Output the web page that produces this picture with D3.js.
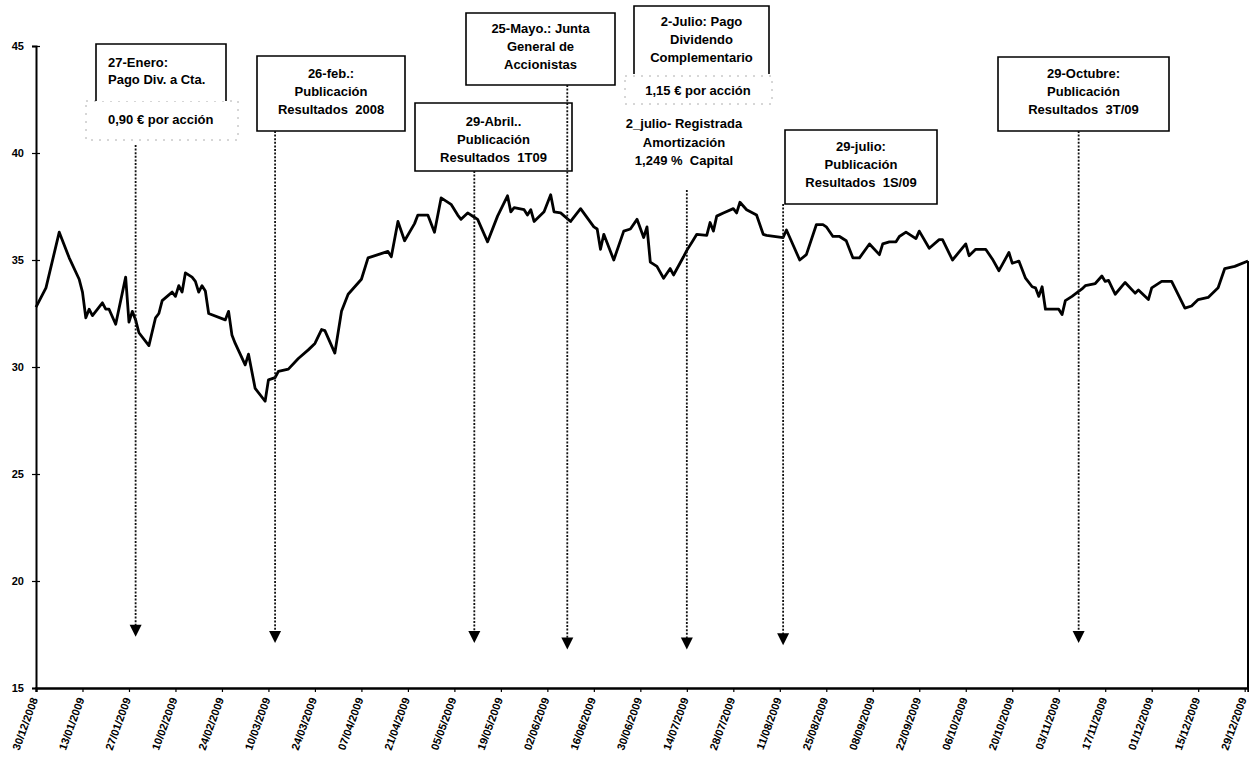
<!DOCTYPE html>
<html>
<head>
<meta charset="utf-8">
<script src="https://cdn.jsdelivr.net/npm/d3@7"></script>
<style>
  html, body { margin: 0; padding: 0; background: #fff; }
  svg { display: block; }
  text { font-family: "Liberation Sans", Arial, sans-serif; }
</style>
</head>
<body>
<svg id="chart" width="1249" height="763"></svg>
<script>
// Daily closing price, 2009
const dates = [
  "2008-12-30","2009-01-02","2009-01-06","2009-01-09","2009-01-12","2009-01-13","2009-01-14","2009-01-15","2009-01-16","2009-01-19",
  "2009-01-20","2009-01-21","2009-01-23","2009-01-26","2009-01-27","2009-01-28","2009-01-29","2009-01-30","2009-02-02","2009-02-04",
  "2009-02-05","2009-02-06","2009-02-09","2009-02-10","2009-02-11","2009-02-12","2009-02-13","2009-02-15","2009-02-16","2009-02-17",
  "2009-02-18","2009-02-19","2009-02-20","2009-02-25","2009-02-26","2009-02-27","2009-02-28","2009-03-03","2009-03-04","2009-03-06",
  "2009-03-09","2009-03-10","2009-03-12","2009-03-13","2009-03-16","2009-03-19","2009-03-22","2009-03-24","2009-03-26","2009-03-27",
  "2009-03-30","2009-04-01","2009-04-03","2009-04-07","2009-04-09","2009-04-15","2009-04-16","2009-04-18","2009-04-20","2009-04-23",
  "2009-04-24","2009-04-27","2009-04-29","2009-05-01","2009-05-04","2009-05-06","2009-05-07","2009-05-09","2009-05-11","2009-05-12",
  "2009-05-15","2009-05-18","2009-05-21","2009-05-22","2009-05-23","2009-05-26","2009-05-27","2009-05-28","2009-05-29","2009-06-01",
  "2009-06-03","2009-06-04","2009-06-06","2009-06-09","2009-06-12","2009-06-16","2009-06-17","2009-06-18","2009-06-19","2009-06-22",
  "2009-06-25","2009-06-27","2009-06-29","2009-07-01","2009-07-02","2009-07-03","2009-07-05","2009-07-07","2009-07-09","2009-07-10",
  "2009-07-13","2009-07-14","2009-07-16","2009-07-17","2009-07-20","2009-07-21","2009-07-22","2009-07-23","2009-07-25","2009-07-28",
  "2009-07-29","2009-07-30","2009-08-01","2009-08-04","2009-08-06","2009-08-07","2009-08-12","2009-08-13","2009-08-15","2009-08-17",
  "2009-08-19","2009-08-22","2009-08-24","2009-08-25","2009-08-27","2009-08-29","2009-08-31","2009-09-02","2009-09-04","2009-09-07",
  "2009-09-10","2009-09-11","2009-09-13","2009-09-15","2009-09-16","2009-09-18","2009-09-21","2009-09-22","2009-09-25","2009-09-28",
  "2009-09-29","2009-10-02","2009-10-06","2009-10-07","2009-10-09","2009-10-12","2009-10-14","2009-10-16","2009-10-19","2009-10-20",
  "2009-10-22","2009-10-24","2009-10-26","2009-10-27","2009-10-28","2009-10-29","2009-10-30","2009-11-01","2009-11-03","2009-11-04",
  "2009-11-05","2009-11-07","2009-11-10","2009-11-11","2009-11-14","2009-11-16","2009-11-17","2009-11-18","2009-11-20","2009-11-23",
  "2009-11-26","2009-11-27","2009-11-30","2009-12-01","2009-12-04","2009-12-07","2009-12-11","2009-12-13","2009-12-15","2009-12-18",
  "2009-12-21","2009-12-23","2009-12-26","2009-12-30"
];
const prices = [
  32.8, 33.7, 36.3, 35.1, 34.1, 33.5, 32.3, 32.7, 32.4, 33.0,
  32.7, 32.7, 32.0, 34.2, 32.1, 32.6, 32.2, 31.6, 31.0, 32.3,
  32.5, 33.1, 33.5, 33.3, 33.8, 33.5, 34.4, 34.2, 34.0, 33.5,
  33.8, 33.55, 32.5, 32.2, 32.6, 31.5, 31.1, 30.1, 30.6, 29.0,
  28.4, 29.4, 29.5, 29.8, 29.9, 30.4, 30.8, 31.1, 31.75, 31.7,
  30.65, 32.6, 33.4, 34.1, 35.1, 35.4, 35.15, 36.8, 35.9, 36.7,
  37.1, 37.1, 36.3, 37.9, 37.6, 37.1, 36.9, 37.2, 37.0, 36.9,
  35.85, 37.05, 38.0, 37.25, 37.45, 37.35, 37.1, 37.35, 36.8, 37.25,
  38.05, 37.25, 37.2, 36.8, 37.4, 36.55, 36.45, 35.5, 36.2, 35.0,
  36.35, 36.45, 36.9, 36.05, 36.55, 34.9, 34.7, 34.15, 34.6, 34.3,
  35.15, 35.45, 35.95, 36.2, 36.15, 36.75, 36.35, 37.05, 37.2, 37.4,
  37.2, 37.7, 37.35, 37.1, 36.2, 36.15, 36.05, 36.4, 35.7, 35.0,
  35.25, 36.65, 36.65, 36.55, 36.1, 36.1, 35.9, 35.1, 35.1, 35.75,
  35.25, 35.75, 35.85, 35.85, 36.1, 36.3, 36.0, 36.35, 35.55, 35.95,
  35.95, 35.0, 35.75, 35.2, 35.5, 35.5, 35.05, 34.5, 35.35, 34.85,
  34.95, 34.15, 33.75, 33.7, 33.3, 33.75, 32.7, 32.7, 32.7, 32.45,
  33.1, 33.3, 33.65, 33.8, 33.9, 34.25, 34.0, 34.05, 33.4, 33.95,
  33.45, 33.6, 33.15, 33.7, 34.0, 34.0, 32.75, 32.85, 33.15, 33.25,
  33.7, 34.6, 34.7, 34.95
];

// Axis ticks
const xTickLabels = [
  "30/12/2008","13/01/2009","27/01/2009","10/02/2009","24/02/2009","10/03/2009","24/03/2009",
  "07/04/2009","21/04/2009","05/05/2009","19/05/2009","02/06/2009","16/06/2009","30/06/2009",
  "14/07/2009","28/07/2009","11/08/2009","25/08/2009","08/09/2009","22/09/2009","06/10/2009",
  "20/10/2009","03/11/2009","17/11/2009","01/12/2009","15/12/2009","29/12/2009"
];
const yTickValues = [15, 20, 25, 30, 35, 40, 45];

// Event markers: where each arrow points on the time axis, and the price level of its tip
const eventDates = ["2009-01-29","2009-03-12","2009-05-11","2009-06-08","2009-07-14","2009-08-12","2009-11-09"];
const eventTips  = [17.4, 17.1, 17.1, 16.8, 16.8, 17.0, 17.1];

// Callout boxes (layout in pixels) and their text
const callouts = [
  { box: [96, 44, 226, 101], open: true, align: "start", tx: 108, lines: ["27-Enero:", "Pago Div. a Cta."], ly: [62, 79], from: 145 },
  { box: [257, 56, 405, 131], lines: ["26-feb.:", "Publicación", "Resultados  2008"], ly: [73, 91, 109], from: 131 },
  { box: [415, 103, 572, 171], lines: ["29-Abril..", "Publicación", "Resultados  1T09"], ly: [121, 139, 157], from: 171 },
  { box: [466, 13, 615, 85], lines: ["25-Mayo.: Junta", "General de", "Accionistas"], ly: [28, 46, 64], from: 85 },
  { box: [634, 6, 769, 74], open: true, lines: ["2-Julio: Pago", "Dividendo", "Complementario"], ly: [21, 39, 57], from: 190 },
  { box: [785, 130, 937, 204], lines: ["29-julio:", "Publicación", "Resultados  1S/09"], ly: [146, 164, 182], from: 204 },
  { box: [998, 57, 1169, 131], lines: ["29-Octubre:", "Publicación", "Resultados  3T/09"], ly: [73, 91, 109], from: 131 }
];
const notes = [
  { text: "0,90 € por acción", x: 108, y: 119, anchor: "start", frame: [86, 101, 238, 140] },
  { text: "1,15 € por acción", x: 698, y: 90, anchor: "middle", frame: [625, 76, 772, 104] },
  { text: "2_julio- Registrada", x: 684, y: 123, anchor: "middle" },
  { text: "Amortización", x: 684, y: 142, anchor: "middle" },
  { text: "1,249 %  Capital", x: 684, y: 160, anchor: "middle" }
];

const parseISO = d3.timeParse("%Y-%m-%d");
const parseTick = d3.timeParse("%d/%m/%Y");
const series = dates.map((d, i) => ({ date: parseISO(d), value: prices[i] }));

const svg = d3.select("#chart");
const x = d3.scaleTime()
  .domain([parseISO("2008-12-30"), parseISO("2009-12-30")])
  .range([36, 1248]);
const y = d3.scaleLinear().domain([15, 45]).range([688, 46]);

svg.append("rect").attr("width", 1249).attr("height", 763).attr("fill", "#fff");

// Y axis
const yAxis = svg.append("g").attr("transform", "translate(36,0)")
  .call(d3.axisLeft(y).tickValues(yTickValues).tickSize(4).tickPadding(8));
yAxis.select(".domain").attr("stroke", "#000").attr("stroke-width", 2);
yAxis.selectAll(".tick line").attr("x2", 4).attr("x1", -4).attr("stroke", "#000").attr("stroke-width", 1.2);
yAxis.selectAll(".tick text")
  .attr("font-size", 11).attr("font-weight", "bold").attr("fill", "#000")
  .style("font-family", "'Liberation Sans', Arial, sans-serif");

// X axis
const xTicks = xTickLabels.map(parseTick);
const xAxis = svg.append("g").attr("transform", "translate(0,688)")
  .call(d3.axisBottom(x).tickValues(xTicks).tickSize(4).tickFormat(d3.timeFormat("%d/%m/%Y")));
xAxis.select(".domain").attr("stroke", "#000").attr("stroke-width", 2.4);
xAxis.selectAll(".tick line").attr("stroke", "#000").attr("stroke-width", 1.2);
xAxis.selectAll(".tick text")
  .attr("font-size", 11).attr("font-weight", "bold").attr("fill", "#000")
  .style("font-family", "'Liberation Sans', Arial, sans-serif")
  .attr("text-anchor", "end")
  .attr("y", 0).attr("dy", "0.35em")
  .attr("transform", "translate(-2,10) rotate(-70)");

// Price line
const line = d3.line().x(d => x(d.date)).y(d => y(d.value));
svg.append("path").datum(series)
  .attr("d", line)
  .attr("fill", "none")
  .attr("stroke", "#000")
  .attr("stroke-width", 2.8)
  .attr("stroke-linejoin", "round");

// Closing edge at the last observation
const last = series[series.length - 1];
svg.append("line")
  .attr("x1", x(last.date)).attr("x2", x(last.date))
  .attr("y1", y(last.value)).attr("y2", y(15))
  .attr("stroke", "#000").attr("stroke-width", 2);

// Note frames (light dotted)
notes.filter(n => n.frame).forEach(n => {
  const [x0, y0, x1, y1] = n.frame;
  svg.append("rect")
    .attr("x", x0).attr("y", y0).attr("width", x1 - x0).attr("height", y1 - y0)
    .attr("fill", "#fff").attr("stroke", "#999").attr("stroke-width", 0.8)
    .attr("stroke-dasharray", "2,6");
});

// Callout boxes
callouts.forEach(c => {
  const [x0, y0, x1, y1] = c.box;
  svg.append("rect")
    .attr("x", x0).attr("y", y0).attr("width", x1 - x0).attr("height", y1 - y0)
    .attr("fill", "#fff").attr("stroke", "none");
  const p = c.open
    ? `M${x0},${y1}V${y0}H${x1}V${y1}`
    : `M${x0},${y0}H${x1}V${y1}H${x0}Z`;
  svg.append("path").attr("d", p).attr("fill", "none")
    .attr("stroke", "#000").attr("stroke-width", 1.6);
  const cx = c.align === "start" ? c.tx : (x0 + x1) / 2;
  c.lines.forEach((t, i) => {
    svg.append("text")
      .attr("x", cx).attr("y", c.ly[i])
      .attr("dy", "0.35em")
      .attr("text-anchor", c.align || "middle")
      .attr("font-size", 13).attr("font-weight", "bold")
      .attr("fill", "#000")
      .style("white-space", "pre")
      .text(t);
  });
});

// Free notes
notes.forEach(n => {
  svg.append("text")
    .attr("x", n.x).attr("y", n.y).attr("dy", "0.35em")
    .attr("text-anchor", n.anchor)
    .attr("font-size", 13).attr("font-weight", "bold")
    .attr("fill", "#000")
    .style("white-space", "pre")
    .text(n.text);
});

// Dotted arrows from the callouts down to the time axis
eventDates.forEach((d, i) => {
  const ex = x(parseISO(d));
  const tip = y(eventTips[i]);
  svg.append("line")
    .attr("x1", ex).attr("x2", ex)
    .attr("y1", callouts[i].from).attr("y2", tip - 11)
    .attr("stroke", "#111").attr("stroke-width", 1.8)
    .attr("stroke-dasharray", "2,1.6");
  svg.append("path")
    .attr("d", `M${ex - 6},${tip - 12}L${ex + 6},${tip - 12}L${ex},${tip}Z`)
    .attr("fill", "#000");
});
</script>
</body>
</html>
